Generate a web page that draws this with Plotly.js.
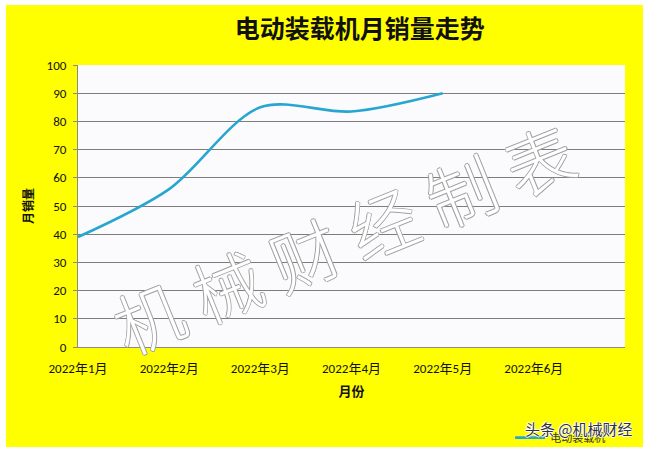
<!DOCTYPE html>
<html>
<head>
<meta charset="utf-8">
<script src="https://cdn.plot.ly/plotly-3.0.1.min.js"></script>
<style>
  html, body { margin: 0; padding: 0; background: #ffffff; }
  #chart { position: absolute; left: 6px; top: 5px; width: 637px; height: 442px; }
</style>
</head>
<body>
<div id="chart"></div>
<script>
const months = ['2022年1月', '2022年2月', '2022年3月', '2022年4月', '2022年5月', '2022年6月'];
const sales = [39, 56, 85, 83.5, 90, null];
const seriesName = '电动装载机';
const yTicks = [0, 10, 20, 30, 40, 50, 60, 70, 80, 90, 100];

const cjk = '"Noto Sans CJK SC", "Noto Sans", sans-serif';
const tickFont = 'Carlito, "Liberation Sans", "Noto Sans CJK SC", sans-serif';

const trace = {
  x: months,
  y: sales,
  name: seriesName,
  type: 'scatter',
  mode: 'lines',
  line: { color: '#27a6cf', width: 2.6, shape: 'spline', smoothing: 0.9 },
  connectgaps: false,
  hoverinfo: 'skip'
};

const layout = {
  width: 637,
  height: 442,
  margin: { l: 72, r: 18, t: 60, b: 100, autoexpand: false },
  paper_bgcolor: '#ffff00',
  plot_bgcolor: '#fbfbfd',
  showlegend: true,
  legend: {
    x: 0.79, xanchor: 'left', y: -0.27, yanchor: 'top',
    bgcolor: 'rgba(0,0,0,0)',
    font: { family: cjk, size: 11, color: '#333' },
    itemwidth: 30
  },
  title: {
    text: '电动装载机月销量走势',
    font: { family: cjk, size: 25, color: '#111', weight: 'bold' },
    x: 0.515, xanchor: 'center', y: 0.945, yanchor: 'middle', xref: 'paper'
  },
  xaxis: {
    type: 'category',
    range: [0, 6],
    showgrid: false,
    showline: true,
    linecolor: '#8a8a8a',
    linewidth: 1,
    ticks: '',
    ticklabelstandoff: 9,
    tickfont: { family: tickFont, size: 13, color: '#111' },
    title: { text: '月份', font: { family: cjk, size: 13, color: '#111', weight: 'bold' }, standoff: 12 },
    fixedrange: true
  },
  yaxis: {
    range: [0, 100],
    tickvals: yTicks,
    showgrid: true,
    gridcolor: '#7d7d7d',
    gridwidth: 1,
    showline: true,
    linecolor: '#8a8a8a',
    ticks: 'outside',
    ticklen: 4,
    tickcolor: '#8a8a8a',
    zeroline: false,
    ticklabelstandoff: 4,
    tickfont: { family: tickFont, size: 13, color: '#111' },
    title: { text: '月销量', font: { family: cjk, size: 12, color: '#111', weight: 'bold' }, standoff: 10 },
    fixedrange: true
  },
  annotations: [
    {
      text: '机 械 财 经 制 表',
      xref: 'paper', yref: 'paper',
      x: 0.484, y: 0.39, xanchor: 'center', yanchor: 'middle',
      showarrow: false,
      textangle: -22,
      font: {
        family: cjk, size: 69, color: '#ffffff', weight: 300,
        shadow: '1px 0 0 #a0a0a0, -1px 0 0 #a0a0a0, 0 1px 0 #a0a0a0, 0 -1px 0 #a0a0a0'
      }
    },
    {
      text: '头条 @机械财经',
      xref: 'paper', yref: 'paper',
      x: 1.018, y: -0.29, xanchor: 'right', yanchor: 'middle',
      showarrow: false,
      font: {
        family: cjk, size: 15, color: '#333',
        shadow: '1px 0 0 #fff, -1px 0 0 #fff, 0 1px 0 #fff, 0 -1px 0 #fff'
      }
    }
  ]
};

Plotly.newPlot('chart', [trace], layout, { displayModeBar: false, staticPlot: true });
</script>
</body>
</html>
